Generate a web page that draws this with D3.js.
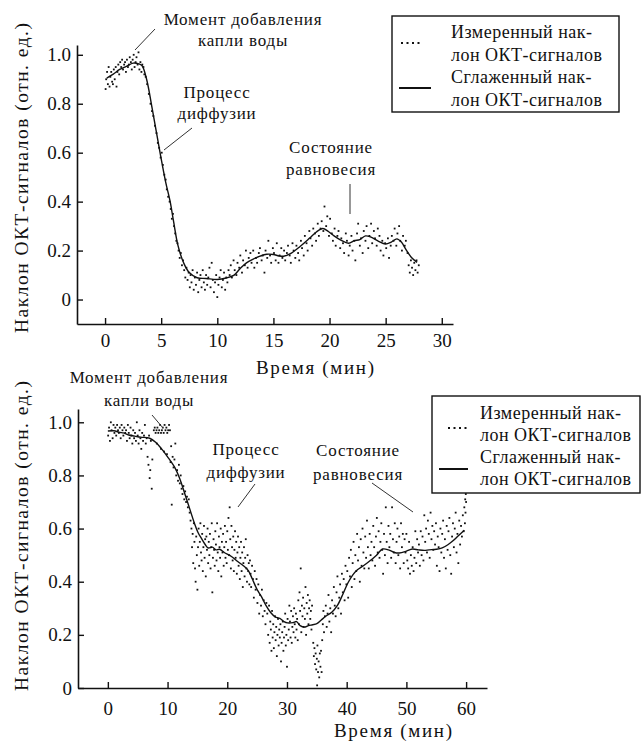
<!DOCTYPE html>
<html>
<head>
<meta charset="utf-8">
<script src="https://cdnjs.cloudflare.com/ajax/libs/d3/7.8.5/d3.min.js"></script>
<style>
  body { margin: 0; background: #fff; }
  svg { display: block; }
  text { font-family: "Liberation Serif", "Times New Roman", Times, "DejaVu Serif", serif; fill: #111; }
</style>
</head>
<body>
<div id="chart"></div>
<script>
// ---- data ----
const yLabel = "Наклон ОКТ-сигналов (отн. ед.)";
const xLabel = "Время (мин)";
const legendLines = ["Измеренный нак-", "лон ОКТ-сигналов", "Сглаженный нак-", "лон ОКТ-сигналов"];
const noteDrop = ["Момент добавления", "капли воды"];
const noteDiff = ["Процесс", "диффузии"];
const noteEq = ["Состояние", "равновесия"];

const slopeTicks = [0, 0.2, 0.4, 0.6, 0.8, 1.0];
const timeTicksTop = [0, 5, 10, 15, 20, 25, 30];
const timeTicksBottom = [0, 10, 20, 30, 40, 50, 60];

// upper panel: smoothed slope [min, value]
const smoothTop = [[0.15,0.905],[0.7,0.92],[1.3,0.94],[1.9,0.953],[2.5,0.966],[3.0,0.963],[3.3,0.955],[3.7,0.90],[4.2,0.78],[4.9,0.60],[5.4,0.48],[5.8,0.40],[6.1,0.32],[6.5,0.22],[7.0,0.15],[7.5,0.11],[8.2,0.089],[9.0,0.086],[10.0,0.082],[10.8,0.088],[11.5,0.10],[12.0,0.125],[12.6,0.15],[13.2,0.165],[13.8,0.177],[14.4,0.185],[15.0,0.184],[15.5,0.178],[15.9,0.177],[16.6,0.19],[17.4,0.218],[18.2,0.25],[18.8,0.275],[19.4,0.29],[19.9,0.278],[20.4,0.26],[21.0,0.243],[21.7,0.23],[22.2,0.24],[22.7,0.245],[23.2,0.26],[23.7,0.255],[24.3,0.24],[25.0,0.227],[25.5,0.235],[26.0,0.248],[26.4,0.235],[26.8,0.205],[27.3,0.172],[27.8,0.152]];

// upper panel: measured slope [min, value]
const measuredTop = [[0.05,0.86],[0.1,0.90],[0.18,0.93],[0.25,0.88],[0.32,0.95],[0.4,0.87],[0.47,0.91],[0.55,0.93],[0.63,0.89],[0.7,0.88],[0.78,0.94],[0.86,0.90],[0.95,0.95],[1.02,0.87],[1.1,0.93],[1.18,0.96],[1.26,0.92],[1.35,0.97],[1.44,0.95],[1.52,0.98],[1.6,0.94],[1.7,0.96],[1.78,0.97],[1.86,0.93],[1.95,0.98],[2.04,0.95],[2.12,0.96],[2.2,0.99],[2.3,0.97],[2.38,0.94],[2.46,0.98],[2.55,1.00],[2.63,0.95],[2.72,0.97],[2.8,0.99],[2.9,0.96],[2.98,1.01],[3.06,0.94],[3.15,0.97],[3.24,0.93],[3.32,0.96],[3.42,0.95],[3.5,0.92],
[3.62,0.91],[3.75,0.88],[3.9,0.84],[4.05,0.80],[4.18,0.77],[4.3,0.75],[4.45,0.71],[4.58,0.68],[4.7,0.64],[4.82,0.62],[4.95,0.58],[5.05,0.60],[5.15,0.55],[5.28,0.51],[5.4,0.49],[5.5,0.45],[5.62,0.42],[5.75,0.40],[5.85,0.37],[5.95,0.33],[6.05,0.35],[6.15,0.30],[6.25,0.27],[6.35,0.24],[6.45,0.23],[6.55,0.20],[6.65,0.17],[6.75,0.19],[6.85,0.14],[6.95,0.16],[7.05,0.12],[7.15,0.09],
[7.25,0.13],[7.35,0.08],[7.45,0.11],[7.55,0.05],[7.62,0.10],[7.7,0.07],[7.8,0.12],[7.9,0.04],[8.0,0.09],[8.1,0.06],[8.2,0.11],[8.3,0.03],[8.4,0.08],[8.5,0.10],[8.6,0.05],[8.7,0.12],[8.8,0.07],[8.9,0.04],[9.0,0.10],[9.1,0.06],[9.2,0.09],[9.3,0.13],[9.4,0.05],[9.5,0.15],[9.6,0.08],[9.7,0.03],[9.8,0.07],[9.9,0.10],[10.0,0.01],[10.1,0.06],[10.2,0.09],[10.3,0.12],[10.4,0.05],[10.5,0.08],[10.6,0.11],[10.7,0.04],[10.8,0.09],[10.9,0.07],[11.0,0.12],[11.1,0.10],[11.2,0.14],
[11.3,0.09],[11.45,0.16],[11.55,0.12],[11.7,0.10],[11.8,0.15],[11.95,0.13],[12.05,0.18],[12.2,0.11],[12.3,0.16],[12.45,0.14],[12.55,0.20],[12.7,0.13],[12.8,0.17],[12.95,0.19],[13.05,0.15],[13.2,0.20],[13.3,0.13],[13.45,0.17],[13.55,0.15],[13.7,0.19],[13.8,0.21],[13.95,0.16],[14.05,0.18],[14.2,0.11],[14.3,0.20],[14.45,0.17],[14.55,0.24],[14.7,0.18],[14.8,0.15],[14.95,0.21],[15.05,0.19],[15.2,0.16],[15.3,0.23],[15.45,0.15],[15.55,0.18],[15.7,0.21],[15.8,0.17],[15.95,0.20],[16.05,0.16],[16.2,0.19],[16.3,0.22],[16.45,0.18],[16.55,0.15],[16.7,0.23],[16.8,0.20],[16.95,0.17],[17.05,0.22],[17.2,0.19],[17.3,0.16],[17.45,0.24],[17.55,0.21],[17.7,0.18],[17.8,0.26],[17.95,0.23],[18.05,0.20],[18.2,0.28],[18.3,0.25],[18.45,0.22],[18.55,0.29],[18.7,0.27],[18.8,0.24],[18.95,0.31],[19.05,0.26],[19.2,0.29],[19.3,0.32],[19.45,0.28],[19.55,0.38],[19.7,0.30],[19.8,0.34],[19.95,0.26],[20.05,0.33],[20.2,0.27],[20.3,0.24],[20.45,0.29],[20.55,0.22],[20.7,0.26],[20.8,0.28],[20.95,0.21],[21.05,0.25],[21.2,0.23],[21.3,0.19],[21.45,0.27],[21.55,0.24],[21.7,0.18],[21.8,0.22],[21.95,0.26],[22.05,0.20],[22.2,0.24],[22.3,0.16],[22.45,0.27],[22.55,0.31],[22.7,0.22],[22.8,0.25],[22.95,0.19],[23.05,0.28],[23.2,0.24],[23.3,0.30],[23.45,0.21],[23.55,0.26],[23.7,0.31],[23.8,0.23],[23.95,0.28],[24.05,0.25],[24.2,0.22],[24.3,0.29],[24.45,0.26],[24.55,0.20],[24.7,0.24],[24.8,0.18],[24.95,0.23],[25.05,0.21],[25.2,0.25],[25.3,0.17],[25.45,0.22],[25.55,0.26],[25.7,0.24],[25.8,0.29],[25.95,0.22],[26.05,0.27],[26.2,0.30],[26.3,0.24],[26.45,0.20],[26.55,0.26],[26.7,0.22],[26.8,0.24],[26.95,0.19],
[27.05,0.14],[27.15,0.11],[27.25,0.16],[27.35,0.13],[27.45,0.10],[27.55,0.15],[27.65,0.12],[27.75,0.16],[27.85,0.11],[27.95,0.14]];

// lower panel: smoothed slope
const smoothBottom = [[0,0.967],[1,0.968],[2,0.962],[2.6,0.96],[3.5,0.952],[4.5,0.948],[5.5,0.944],[7,0.94],[8,0.925],[9,0.90],[10,0.87],[11.2,0.83],[12,0.79],[12.9,0.73],[13.7,0.675],[14.5,0.62],[15.1,0.585],[15.7,0.562],[16.3,0.54],[16.8,0.527],[17.5,0.53],[18.1,0.52],[18.7,0.522],[19.5,0.51],[20.7,0.495],[21.8,0.475],[22.7,0.46],[23.5,0.443],[24.2,0.41],[25,0.37],[25.7,0.345],[26.5,0.31],[27.3,0.283],[28,0.268],[28.8,0.262],[29.5,0.25],[30.1,0.245],[31,0.246],[31.6,0.25],[32.2,0.235],[32.9,0.229],[33.6,0.235],[34.3,0.238],[35,0.242],[35.7,0.255],[36.5,0.27],[37.5,0.285],[38.5,0.313],[39.4,0.355],[40.2,0.395],[41,0.425],[41.8,0.445],[42.8,0.46],[43.8,0.477],[45,0.5],[46,0.523],[47,0.52],[48,0.51],[48.8,0.508],[50,0.515],[51,0.523],[52,0.52],[53,0.518],[53.8,0.52],[55,0.522],[56,0.527],[57,0.54],[57.7,0.552],[58.7,0.573],[59.7,0.594]];

// lower panel: measured slope
const measuredBottom = [[0.05,0.95],[0.2,0.98],[0.35,0.93],[0.5,1.00],[0.62,0.97],[0.8,0.94],[0.95,0.99],[1.1,0.96],[1.25,0.98],[1.4,0.95],[1.55,0.99],[1.7,0.97],[1.85,0.96],[2.0,0.98],[2.15,0.94],[2.3,0.99],[2.45,0.97],[2.6,0.95],[2.75,0.98],[2.9,0.96],[3.05,0.97],[3.2,0.93],[3.35,0.99],[3.5,0.96],[3.65,0.94],[3.8,0.98],[3.95,0.95],[4.1,0.92],[4.25,0.97],[4.4,0.94],[4.55,0.96],[4.7,0.93],[4.85,1.00],[5.0,0.95],[5.15,0.92],[5.3,0.97],[5.45,0.94],[5.6,0.90],[5.75,0.96],[5.9,0.93],[6.05,0.95],[6.2,0.99],[6.35,0.92],[6.5,0.94],[6.65,0.87],[6.8,0.84],[6.9,0.95],[7.0,0.79],[7.1,0.82],[7.2,0.93],[7.35,0.75],[7.45,0.86],
[7.7,0.97],[7.85,0.98],[8.0,0.96],[8.15,0.97],[8.3,0.98],[8.45,0.96],[8.6,0.97],[8.75,0.99],[8.9,0.96],[9.05,0.97],[9.2,0.98],[9.35,0.96],[9.5,0.99],[9.65,0.97],[9.8,0.98],[9.95,0.96],[10.1,0.97],[10.25,0.99],[10.4,0.97],
[8.2,0.92],[8.9,0.90],[9.4,0.89],[9.9,0.88],[10.5,0.85],[10.6,0.91],[10.7,0.69],[10.85,0.87],[11.0,0.83],[11.15,0.86],[11.3,0.92],[11.45,0.80],[11.6,0.82],[11.75,0.78],[11.9,0.84],[12.05,0.77],[12.2,0.80],[12.35,0.75],[12.5,0.73],[12.65,0.76],[12.8,0.71],[12.95,0.74],[13.1,0.70],[13.25,0.72],[13.4,0.68],[13.55,0.71],[13.7,0.66],[13.85,0.63],[14.0,0.60],
[14.1,0.53],[14.2,0.58],[14.3,0.47],[14.4,0.62],[14.5,0.55],[14.6,0.45],[14.7,0.40],[14.8,0.57],[14.9,0.50],[15.0,0.37],[15.1,0.53],[15.2,0.60],[15.3,0.46],[15.4,0.55],[15.5,0.62],[15.6,0.51],[15.7,0.48],[15.8,0.58],[15.9,0.44],[16.0,0.53],[16.1,0.61],[16.2,0.49],[16.3,0.56],[16.4,0.42],[16.5,0.57],[16.6,0.52],[16.7,0.60],[16.8,0.47],[16.9,0.55],[17.0,0.50],[17.1,0.58],[17.2,0.45],[17.3,0.53],[17.4,0.62],[17.5,0.36],[17.6,0.49],[17.7,0.56],[17.8,0.52],[17.9,0.46],[18.0,0.59],[18.1,0.54],[18.2,0.48],[18.3,0.62],[18.4,0.51],[18.5,0.44],[18.6,0.57],[18.7,0.53],[18.8,0.49],[18.9,0.60],[19.0,0.42],[19.1,0.55],[19.2,0.51],[19.3,0.58],[19.4,0.46],[19.5,0.53],[19.6,0.61],[19.7,0.49],[19.8,0.55],[19.9,0.47],[20.0,0.59],[20.1,0.52],[20.2,0.64],[20.3,0.50],[20.4,0.68],[20.5,0.56],[20.6,0.45],[20.7,0.61],[20.8,0.53],[20.9,0.48],[21.0,0.57],[21.1,0.44],[21.2,0.52],[21.3,0.59],[21.4,0.49],[21.5,0.55],[21.6,0.43],[21.7,0.51],[21.8,0.57],[21.9,0.46],[22.0,0.53],[22.1,0.41],[22.2,0.49],[22.3,0.55],[22.4,0.44],[22.5,0.51],[22.6,0.38],[22.7,0.47],[22.8,0.53],[22.9,0.42],[23.0,0.49],[23.1,0.56],[23.2,0.45],[23.3,0.40],[23.4,0.50],[23.5,0.44],[23.6,0.47],[23.7,0.39],[23.8,0.48],[23.9,0.43],
[24.0,0.38],[24.15,0.46],[24.3,0.41],[24.45,0.34],[24.6,0.44],[24.75,0.37],[24.9,0.41],[25.05,0.32],[25.2,0.39],[25.35,0.28],[25.5,0.35],[25.65,0.31],[25.8,0.37],[25.95,0.27],[26.1,0.33],[26.25,0.29],[26.4,0.24],[26.55,0.32],
[26.7,0.28],[26.85,0.20],[27.0,0.31],[27.1,0.17],[27.2,0.25],[27.3,0.22],[27.4,0.14],[27.5,0.29],[27.6,0.19],[27.7,0.24],[27.8,0.15],[27.9,0.21],[28.0,0.27],[28.1,0.18],[28.2,0.23],[28.3,0.12],[28.4,0.20],[28.5,0.26],[28.6,0.16],[28.7,0.22],[28.8,0.19],[28.9,0.24],[29.0,0.10],[29.1,0.17],[29.2,0.21],[29.3,0.25],[29.4,0.14],[29.5,0.19],[29.6,0.23],[29.7,0.28],[29.8,0.16],[29.9,0.20],[30.0,0.08],[30.1,0.26],[30.2,0.18],[30.3,0.22],[30.4,0.31],[30.5,0.25],[30.6,0.19],[30.7,0.29],[30.8,0.17],[30.9,0.23],[31.0,0.27],[31.1,0.21],[31.2,0.30],[31.3,0.24],[31.4,0.19],[31.5,0.28],[31.6,0.22],[31.7,0.26],[31.8,0.18],[31.9,0.33],[32.0,0.24],[32.1,0.36],[32.2,0.29],[32.3,0.45],[32.4,0.21],[32.5,0.31],[32.6,0.27],[32.7,0.34],[32.8,0.23],[32.9,0.30],[33.0,0.26],[33.1,0.38],[33.2,0.20],[33.3,0.32],[33.4,0.28],[33.5,0.35],[33.6,0.24],[33.7,0.30],[33.8,0.33],[33.9,0.26],[34.0,0.29],[34.1,0.22],[34.2,0.31],
[34.4,0.17],[34.5,0.12],[34.6,0.15],[34.7,0.09],[34.8,0.13],[34.9,0.07],[35.0,0.11],[35.05,0.01],[35.1,0.16],[35.2,0.06],[35.3,0.10],[35.4,0.04],[35.5,0.13],[35.6,0.08],[35.7,0.14],[35.8,0.06],[35.9,0.18],
[36.0,0.24],[36.1,0.29],[36.2,0.21],[36.35,0.27],[36.5,0.31],[36.65,0.23],[36.8,0.28],[36.95,0.35],[37.1,0.25],[37.25,0.30],[37.4,0.21],[37.55,0.33],[37.7,0.28],[37.85,0.38],[38.0,0.31],[38.15,0.27],[38.3,0.36],[38.45,0.42],[38.6,0.30],[38.75,0.34],[38.9,0.39],[39.05,0.28],[39.2,0.43],[39.35,0.36],[39.5,0.41],[39.65,0.33],[39.8,0.46],[39.95,0.39],
[40.1,0.44],[40.25,0.34],[40.4,0.49],[40.55,0.42],[40.7,0.52],[40.85,0.38],[41.0,0.47],[41.15,0.55],[41.3,0.41],[41.45,0.50],[41.6,0.44],[41.75,0.58],[41.9,0.48],[42.05,0.53],[42.2,0.40],[42.35,0.56],[42.5,0.46],[42.65,0.60],[42.8,0.51],[42.95,0.45],[43.1,0.57],[43.25,0.49],[43.4,0.63],[43.55,0.53],[43.7,0.45],[43.85,0.58],[44.0,0.50],[44.15,0.55],[44.3,0.48],[44.45,0.61],[44.6,0.53],[44.75,0.46],[44.9,0.57],[45.05,0.64],[45.2,0.51],[45.35,0.59],[45.5,0.49],[45.65,0.55],[45.8,0.62],[45.95,0.52],[46.1,0.43],[46.25,0.58],[46.4,0.50],[46.55,0.68],[46.7,0.55],[46.85,0.47],[47.0,0.61],[47.15,0.53],[47.3,0.58],[47.45,0.49],[47.6,0.68],[47.75,0.56],[47.9,0.51],[48.05,0.62],[48.2,0.47],[48.35,0.55],[48.5,0.60],[48.65,0.50],[48.8,0.57],[48.95,0.45],[49.1,0.62],[49.25,0.53],[49.4,0.58],[49.55,0.47],[49.7,0.56],[49.85,0.51],[50.0,0.58],[50.15,0.48],[50.3,0.45],[50.45,0.55],[50.6,0.43],[50.75,0.50],[50.9,0.46],[51.05,0.53],[51.2,0.44],[51.35,0.49],[51.5,0.59],[51.65,0.47],[51.8,0.56],[51.95,0.51],[52.1,0.54],[52.25,0.46],[52.4,0.59],[52.55,0.50],[52.7,0.57],[52.85,0.48],[53.0,0.65],[53.15,0.55],[53.3,0.60],[53.45,0.51],[53.6,0.63],[53.75,0.58],[53.9,0.49],[54.05,0.66],[54.2,0.56],[54.35,0.61],[54.5,0.52],[54.65,0.59],[54.8,0.54],[54.95,0.62],[55.1,0.46],[55.25,0.57],[55.4,0.53],[55.55,0.44],[55.7,0.60],[55.85,0.51],[56.0,0.58],[56.15,0.63],[56.3,0.49],[56.45,0.56],[56.6,0.45],[56.75,0.61],[56.9,0.52],[57.05,0.59],[57.2,0.64],[57.35,0.50],[57.5,0.43],[57.65,0.57],[57.8,0.62],[57.95,0.53],[58.1,0.60],[58.25,0.66],[58.4,0.51],[58.55,0.58],[58.7,0.47],[58.85,0.63],[59.0,0.54],[59.15,0.61],[59.3,0.57],[59.45,0.65],[59.6,0.59],[59.7,0.68],[59.8,0.62],[59.85,0.71],[59.9,0.66],[59.95,0.73],[60.0,0.70]];

// ---- drawing ----
var W = 641, H = 744;
var SERIF = '"Liberation Serif", "Times New Roman", Times, "DejaVu Serif", serif';
var svg = d3.select("#chart").append("svg")
    .attr("width", W).attr("height", H)
    .style("background", "#fff");

var fmtSlope = d => d === 0 ? "0" : d3.format(".1f")(d);

function panel(opt) {
    var x = d3.scaleLinear().domain(opt.xDomain).range(opt.xRange);
    var y = d3.scaleLinear().domain(opt.yDomain).range(opt.yRange);
    var g = svg.append("g").attr("font-family", SERIF);

    // measured dots
    g.append("g").selectAll("rect")
        .data(opt.measured)
        .enter().append("rect")
        .attr("x", d => x(d[0]) - 0.9)
        .attr("y", d => y(d[1]) - 0.9)
        .attr("width", 1.8).attr("height", 1.8)
        .attr("fill", "#111");

    // smoothed line
    var line = d3.line()
        .x(d => x(d[0])).y(d => y(d[1]))
        .curve(d3.curveCatmullRom);
    g.append("path")
        .datum(opt.smooth)
        .attr("d", line)
        .attr("fill", "none")
        .attr("stroke", "#111")
        .attr("stroke-width", 1.4);

    // axes, ticks pointing inward
    var xAxis = g.append("g")
        .attr("transform", "translate(0," + opt.yRange[0] + ")")
        .call(d3.axisBottom(x).tickValues(opt.xTicks).tickSizeInner(-6).tickSizeOuter(0).tickPadding(opt.xPad));
    var yAxis = g.append("g")
        .attr("transform", "translate(" + opt.xRange[0] + ",0)")
        .call(d3.axisLeft(y).tickValues(slopeTicks).tickFormat(fmtSlope).tickSizeInner(-6).tickSizeOuter(0).tickPadding(6));
    [xAxis, yAxis].forEach(a => {
        a.attr("font-family", SERIF);
        a.select(".domain").attr("stroke", "#111").attr("stroke-width", 1.6);
        a.selectAll(".tick line").attr("stroke", "#111").attr("stroke-width", 1.4);
        a.selectAll(".tick text").attr("font-size", 19).attr("fill", "#111");
    });

    // axis titles
    g.append("text")
        .attr("x", opt.xTitle[0]).attr("y", opt.xTitle[1])
        .attr("text-anchor", "middle").attr("font-size", 19)
        .attr("textLength", 118).attr("lengthAdjust", "spacing")
        .text(xLabel);
    g.append("text")
        .attr("transform", "translate(" + opt.yTitle[0] + "," + opt.yTitle[1] + ") rotate(-90)")
        .attr("text-anchor", "middle").attr("font-size", 19.5)
        .attr("textLength", 310).attr("lengthAdjust", "spacing")
        .text(yLabel);

    // annotations
    opt.notes.forEach(n => {
        n.lines.forEach((t, i) => {
            g.append("text")
                .attr("x", n.x).attr("y", n.y + i * n.lh)
                .attr("text-anchor", "middle").attr("font-size", 17)
                .attr("letter-spacing", 0.8)
                .text(t);
        });
        g.append("line")
            .attr("x1", n.from[0]).attr("y1", n.from[1])
            .attr("x2", n.to[0]).attr("y2", n.to[1])
            .attr("stroke", "#333").attr("stroke-width", 1);
    });

    // legend
    var L = opt.legend;
    g.append("rect")
        .attr("x", L.x).attr("y", L.y).attr("width", L.w).attr("height", L.h)
        .attr("fill", "#fff").attr("stroke", "#111").attr("stroke-width", 1.4);
    legendLines.forEach((t, i) => {
        g.append("text")
            .attr("x", L.tx).attr("y", L.ty + i * L.lh)
            .attr("font-size", 18).attr("letter-spacing", 0.5)
            .text(t);
    });
    g.append("g").selectAll("rect")
        .data([0, 1, 2, 3])
        .enter().append("rect")
        .attr("x", d => L.dotX + d * 5.5).attr("y", L.dotY)
        .attr("width", 2).attr("height", 2).attr("fill", "#111");
    g.append("line")
        .attr("x1", L.lineX[0]).attr("x2", L.lineX[1])
        .attr("y1", L.lineY).attr("y2", L.lineY)
        .attr("stroke", "#111").attr("stroke-width", 2);
}

panel({
    measured: measuredTop, smooth: smoothTop,
    xDomain: [-2.5, 31], xRange: [77, 453],
    yDomain: [-0.1, 1.04], yRange: [324, 45],
    xTicks: timeTicksTop, xPad: 10,
    xTitle: [315, 374], yTitle: [28, 178],
    notes: [
        {lines: noteDrop, x: 243, y: 25, lh: 21, from: [155, 29], to: [135, 50]},
        {lines: noteDiff, x: 217, y: 98, lh: 21, from: [192, 128], to: [164, 150]},
        {lines: noteEq, x: 331, y: 153, lh: 22, from: [350, 184], to: [350, 214]}
    ],
    legend: {x: 392, y: 16, w: 227, h: 96, tx: 451, ty: 38, lh: 22.5,
             dotX: 401, dotY: 42, lineX: [399, 431], lineY: 88}
});

panel({
    measured: measuredBottom, smooth: smoothBottom,
    xDomain: [-5, 63.5], xRange: [78, 487],
    yDomain: [0, 1.05], yRange: [688, 409],
    xTicks: timeTicksBottom, xPad: 14,
    xTitle: [393, 737], yTitle: [28, 536],
    notes: [
        {lines: noteDrop, x: 149, y: 383, lh: 23, from: [152, 415], to: [163, 428]},
        {lines: noteDiff, x: 246, y: 455, lh: 23, from: [255, 484], to: [238, 507]},
        {lines: noteEq, x: 358, y: 456, lh: 24, from: [372, 483], to: [413, 512]}
    ],
    legend: {x: 432, y: 396, w: 208, h: 97, tx: 480, ty: 419, lh: 22,
             dotX: 448, dotY: 427, lineX: [439, 468], lineY: 469}
});
</script>
</body>
</html>
